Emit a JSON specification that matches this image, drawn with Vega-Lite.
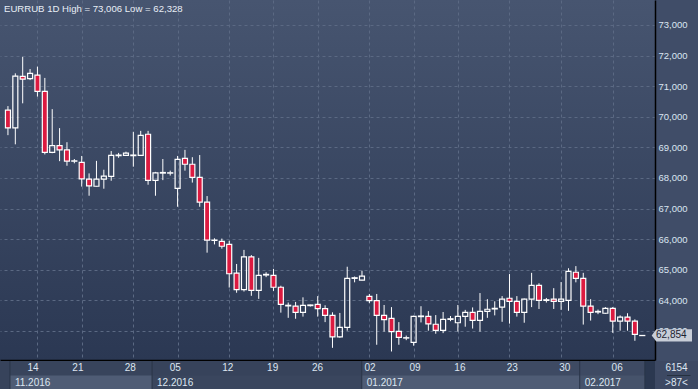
{
  "$schema": "https://vega.github.io/schema/vega-lite/v6.json",
  "padding": 0,
  "background": "#404d68",
  "spacing": 0,
  "config": {"font": "Liberation Sans", "view": {"stroke": null}, "axis": {"labelOverlap": false, "labelSeparation": 0}, "axisY": {"labelOverlap": false}},
  "datasets": {
    "candles": [
      {"i":0,"o":70.22,"h":70.35,"l":69.40,"c":69.64},
      {"i":1,"o":69.64,"h":71.42,"l":69.10,"c":71.33},
      {"i":2,"o":71.32,"h":71.96,"l":70.44,"c":71.23},
      {"i":3,"o":71.25,"h":71.56,"l":71.20,"c":71.42},
      {"i":4,"o":71.36,"h":71.64,"l":70.66,"c":70.83},
      {"i":5,"o":70.83,"h":71.27,"l":68.77,"c":68.84},
      {"i":6,"o":68.84,"h":70.25,"l":68.81,"c":69.06},
      {"i":7,"o":69.06,"h":69.63,"l":68.55,"c":68.92},
      {"i":8,"o":68.92,"h":69.17,"l":68.40,"c":68.55},
      {"i":9,"o":68.55,"h":68.62,"l":68.48,"c":68.56},
      {"i":10,"o":68.51,"h":68.72,"l":67.72,"c":67.97},
      {"i":11,"o":67.96,"h":68.15,"l":67.42,"c":67.74},
      {"i":12,"o":67.73,"h":68.56,"l":67.72,"c":67.96},
      {"i":13,"o":67.96,"h":68.27,"l":67.65,"c":68.06},
      {"i":14,"o":68.05,"h":68.88,"l":67.91,"c":68.74},
      {"i":15,"o":68.73,"h":68.82,"l":68.66,"c":68.75},
      {"i":16,"o":68.74,"h":68.86,"l":68.72,"c":68.81},
      {"i":17,"o":68.73,"h":69.51,"l":68.37,"c":68.75},
      {"i":18,"o":68.74,"h":69.54,"l":68.72,"c":69.39},
      {"i":19,"o":69.43,"h":69.54,"l":67.78,"c":67.92},
      {"i":20,"o":67.92,"h":68.20,"l":67.42,"c":68.17},
      {"i":21,"o":68.16,"h":68.62,"l":67.93,"c":68.18},
      {"i":22,"o":68.16,"h":68.24,"l":68.08,"c":68.17},
      {"i":23,"o":67.66,"h":68.72,"l":67.06,"c":68.61},
      {"i":24,"o":68.64,"h":68.92,"l":68.24,"c":68.45},
      {"i":25,"o":68.45,"h":68.68,"l":67.85,"c":68.02},
      {"i":26,"o":68.02,"h":68.75,"l":67.06,"c":67.21},
      {"i":27,"o":67.21,"h":67.41,"l":65.56,"c":65.97},
      {"i":28,"o":65.96,"h":66.03,"l":65.83,"c":65.97},
      {"i":29,"o":65.93,"h":66.02,"l":65.69,"c":65.77},
      {"i":30,"o":65.83,"h":65.95,"l":64.42,"c":64.87},
      {"i":31,"o":64.89,"h":65.19,"l":64.25,"c":64.35},
      {"i":32,"o":64.35,"h":65.65,"l":64.29,"c":65.42},
      {"i":33,"o":65.42,"h":65.48,"l":64.15,"c":64.33},
      {"i":34,"o":64.33,"h":65.39,"l":64.05,"c":64.82},
      {"i":35,"o":64.83,"h":64.92,"l":64.76,"c":64.85},
      {"i":36,"o":64.82,"h":65.03,"l":64.31,"c":64.43},
      {"i":37,"o":64.43,"h":64.48,"l":63.60,"c":63.87},
      {"i":38,"o":63.82,"h":63.93,"l":63.43,"c":63.84},
      {"i":39,"o":63.81,"h":63.95,"l":63.40,"c":63.61},
      {"i":40,"o":63.61,"h":64.10,"l":63.47,"c":63.84},
      {"i":41,"o":63.83,"h":63.86,"l":63.80,"c":63.85},
      {"i":42,"o":63.87,"h":64.14,"l":63.47,"c":63.73},
      {"i":43,"o":63.73,"h":63.84,"l":63.29,"c":63.51},
      {"i":44,"o":63.51,"h":63.61,"l":62.45,"c":62.81},
      {"i":45,"o":62.81,"h":63.59,"l":62.78,"c":63.12},
      {"i":46,"o":63.12,"h":65.10,"l":63.01,"c":64.72},
      {"i":47,"o":64.72,"h":64.78,"l":64.59,"c":64.74},
      {"i":48,"o":64.66,"h":64.97,"l":64.65,"c":64.79},
      {"i":49,"o":64.13,"h":64.21,"l":63.91,"c":63.99},
      {"i":50,"o":63.99,"h":64.21,"l":62.55,"c":63.51},
      {"i":51,"o":63.51,"h":63.85,"l":62.98,"c":63.37},
      {"i":52,"o":63.41,"h":63.78,"l":62.33,"c":62.98},
      {"i":53,"o":62.99,"h":63.29,"l":62.55,"c":62.79},
      {"i":54,"o":62.77,"h":62.85,"l":62.70,"c":62.78},
      {"i":55,"o":62.63,"h":63.50,"l":62.52,"c":63.48},
      {"i":56,"o":63.47,"h":63.81,"l":63.28,"c":63.49},
      {"i":57,"o":63.48,"h":63.65,"l":63.01,"c":63.23},
      {"i":58,"o":63.22,"h":63.52,"l":62.91,"c":63.02},
      {"i":59,"o":63.02,"h":63.62,"l":62.93,"c":63.38},
      {"i":60,"o":63.38,"h":63.49,"l":63.32,"c":63.40},
      {"i":61,"o":63.27,"h":63.85,"l":62.98,"c":63.48},
      {"i":62,"o":63.48,"h":63.69,"l":63.14,"c":63.61},
      {"i":63,"o":63.61,"h":63.77,"l":63.08,"c":63.35},
      {"i":64,"o":63.35,"h":64.24,"l":62.98,"c":63.64},
      {"i":65,"o":63.64,"h":64.04,"l":63.43,"c":63.71},
      {"i":66,"o":63.72,"h":63.97,"l":63.51,"c":63.74},
      {"i":67,"o":63.78,"h":64.14,"l":63.30,"c":64.04},
      {"i":68,"o":64.07,"h":64.86,"l":63.24,"c":63.97},
      {"i":69,"o":63.97,"h":64.14,"l":63.47,"c":63.61},
      {"i":70,"o":63.61,"h":64.06,"l":63.27,"c":64.04},
      {"i":71,"o":64.04,"h":64.90,"l":63.78,"c":64.49},
      {"i":72,"o":64.49,"h":64.56,"l":63.72,"c":64.00},
      {"i":73,"o":64.00,"h":64.08,"l":63.93,"c":64.02},
      {"i":74,"o":64.04,"h":64.40,"l":63.72,"c":63.97},
      {"i":75,"o":63.97,"h":64.60,"l":63.69,"c":64.04},
      {"i":76,"o":64.00,"h":65.05,"l":63.66,"c":64.95},
      {"i":77,"o":64.92,"h":65.12,"l":64.59,"c":64.72},
      {"i":78,"o":64.72,"h":64.90,"l":63.21,"c":63.81},
      {"i":79,"o":63.81,"h":64.04,"l":63.34,"c":63.61},
      {"i":80,"o":63.62,"h":63.70,"l":63.55,"c":63.64},
      {"i":81,"o":63.58,"h":63.78,"l":63.56,"c":63.74},
      {"i":82,"o":63.74,"h":63.78,"l":62.94,"c":63.32},
      {"i":83,"o":63.32,"h":63.51,"l":63.01,"c":63.45},
      {"i":84,"o":63.45,"h":63.58,"l":63.01,"c":63.32},
      {"i":85,"o":63.32,"h":63.38,"l":62.68,"c":62.89},
      {"i":86,"o":62.85,"h":62.86,"l":62.85,"c":62.854}
    ],
    "ticks": [
      {"i":4,"t":"14"},{"i":10,"t":"21"},{"i":17,"t":"28"},{"i":23,"t":"05"},
      {"i":30,"t":"12"},{"i":36,"t":"19"},{"i":42,"t":"26"},{"i":49,"t":"02"},
      {"i":55,"t":"09"},{"i":61,"t":"16"},{"i":68,"t":"23"},{"i":75,"t":"30"},{"i":82,"t":"06"}
    ],
    "months": [
      {"s":0.93,"e":19.9,"m":"11.2016"},
      {"s":19.9,"e":47.9,"m":"12.2016"},
      {"s":47.9,"e":77.0,"m":"01.2017"},
      {"s":77.0,"e":85.7,"m":"02.2017"},
      {"s":85.7,"e":87.05,"m":""}
    ]
  },
  "vconcat": [
    {
      "width": 655,
      "height": 360,
      "title": {"text": "EURRUB 1D High = 73,006 Low = 62,328", "anchor": "start", "offset": -14, "dx": 4, "fontSize": 9.6, "fontWeight": "normal", "color": "#e8eef6", "font": "Liberation Sans"},
      "view": {"stroke": null, "fill": {"gradient": "linear", "x1": 0, "y1": 0, "x2": 0, "y2": 1, "stops": [{"offset": 0, "color": "#475570"}, {"offset": 1, "color": "#2b3853"}]}},
      "data": {"name": "candles"},
      "encoding": {
        "x": {"field": "i", "type": "quantitative",
          "scale": {"domain": [-0.4, 87.05], "nice": false, "zero": false},
          "axis": {"values": [4,10,17,23,30,36,42,49,55,61,68,75,82], "labels": false, "ticks": false, "tickSize": 0, "domain": true, "domainColor": "#000000", "domainWidth": 1.5, "grid": true, "gridColor": "#5b6983", "gridDash": [3,3], "gridWidth": 1, "title": null, "minExtent": 0, "maxExtent": 0}},
        "y": {"field": "l", "type": "quantitative",
          "scale": {"domain": [62.052, 73.817], "nice": false, "zero": false},
          "axis": {"orient": "right", "values": [63,64,65,66,67,68,69,70,71,72,73], "labelExpr": "replace(format(datum.value, '.3f'), '.', ',')", "labelOverlap": false, "labelSeparation": 0, "labelColor": "#dbe5f1", "labelFontSize": 9.5, "labelFont": "Liberation Sans", "labelPadding": 3, "labelAlign": "left", "labelBaseline": "middle", "ticks": false, "tickSize": 0, "domain": true, "domainColor": "#000000", "domainWidth": 1.5, "grid": true, "gridColor": "#5b6983", "gridDash": [3,3], "gridWidth": 1, "title": null, "minExtent": 43, "maxExtent": 43}}
      },
      "layer": [
        {
          "transform": [{"filter": "datum.c < datum.o"}],
          "mark": {"type": "rule", "color": "#ffffff", "strokeWidth": 1, "clip": true},
          "encoding": {"y2": {"field": "h"}}
        },
        {
          "transform": [{"filter": "datum.c >= datum.o"}],
          "mark": {"type": "rule", "color": "#ffffff", "strokeWidth": 1, "clip": true},
          "encoding": {"y": {"field": "c", "type": "quantitative"}, "y2": {"field": "h"}}
        },
        {
          "transform": [{"filter": "datum.c >= datum.o"}],
          "mark": {"type": "rule", "color": "#ffffff", "strokeWidth": 1, "clip": true},
          "encoding": {"y2": {"field": "o"}}
        },
        {
          "mark": {"type": "bar", "size": 5, "stroke": "#ffffff", "strokeWidth": 1.2, "clip": true, "cornerRadius": 0},
          "encoding": {
            "y": {"field": "o", "type": "quantitative"},
            "y2": {"field": "c"},
            "fill": {"condition": {"test": "datum.c < datum.o", "value": "#dc1a40"}, "value": "transparent"}
          }
        },
        {
          "transform": [{"filter": "datum.i == 86"}],
          "mark": {"type": "point", "shape": "M0.08,0L0.3,-0.29L2,-0.29L2,0.29L0.3,0.29Z", "size": 1764, "filled": true, "fill": "#c8ced8", "opacity": 1, "strokeWidth": 0},
          "encoding": {"x": {"datum": 87.05}, "y": {"field": "c", "type": "quantitative"}}
        },
        {
          "transform": [{"filter": "datum.i == 86"}, {"calculate": "replace(format(datum.c, '.3f'), '.', ',')", "as": "lab"}],
          "mark": {"type": "text", "align": "left", "baseline": "middle", "dx": 6, "fontSize": 10, "font": "Liberation Sans", "color": "#1c2331"},
          "encoding": {"x": {"datum": 87.05}, "y": {"field": "c", "type": "quantitative"}, "text": {"field": "lab"}}
        }
      ]
    },
    {
      "spacing": 0,
      "hconcat": [
        {
          "width": 655,
          "height": 29,
          "view": {"fill": "#37435b", "stroke": null},
          "layer": [
            {
              "data": {"name": "months"},
              "mark": {"type": "rect"},
              "encoding": {
                "x": {"field": "s", "type": "quantitative", "scale": {"domain": [-0.4, 87.05], "nice": false, "zero": false}, "axis": null},
                "x2": {"field": "e"},
                "fill": {"field": "m", "type": "nominal", "scale": {"domain": ["11.2016","12.2016","01.2017","02.2017",""], "range": ["#38445c","#37435b","#3e4a63","#3e4a63","#2b3850"]}, "legend": null}
              }
            },
            {
              "data": {"name": "months"},
              "transform": [{"filter": "datum.m != ''"}],
              "mark": {"type": "rect"},
              "encoding": {
                "x": {"field": "s", "type": "quantitative"},
                "x2": {"field": "e"},
                "y": {"datum": "m", "type": "ordinal", "scale": {"domain": ["d","m"], "paddingInner": 0, "paddingOuter": 0}, "axis": null},
                "color": {"field": "m", "type": "nominal", "scale": {"domain": ["11.2016","12.2016","01.2017","02.2017"], "range": ["#4f5c75","#3a465e","#4f5c75","#46536b"]}, "legend": null}
              }
            },
            {
              "data": {"name": "months"},
              "mark": {"type": "rule", "color": "#2a3548", "strokeWidth": 1},
              "encoding": {"x": {"field": "s", "type": "quantitative"}}
            },
            {
              "data": {"name": "ticks"},
              "mark": {"type": "text", "align": "center", "baseline": "middle", "fontSize": 10, "font": "Liberation Sans", "color": "#dde6f1"},
              "encoding": {"x": {"field": "i", "type": "quantitative"}, "y": {"datum": "d", "type": "ordinal"}, "text": {"field": "t"}}
            },
            {
              "data": {"name": "months"},
              "mark": {"type": "text", "align": "left", "baseline": "middle", "dx": 5, "fontSize": 10, "font": "Liberation Sans", "color": "#dde6f1"},
              "encoding": {"x": {"field": "s", "type": "quantitative"}, "y": {"datum": "m", "type": "ordinal"}, "text": {"field": "m"}}
            }
          ]
        },
        {
          "width": 43,
          "height": 29,
          "view": {"fill": "#3d4963", "stroke": null},
          "data": {"values": [{"row": "a", "t": "6154"}, {"row": "b", "t": ">87<"}]},
          "layer": [
            {
              "mark": {"type": "text", "align": "center", "baseline": "middle", "fontSize": 10, "font": "Liberation Sans", "color": "#dde6f1"},
              "encoding": {
                "y": {"field": "row", "type": "ordinal", "scale": {"domain": ["a","b"], "paddingInner": 0, "paddingOuter": 0}, "axis": null},
                "text": {"field": "t"}
              }
            },
            {
              "mark": {"type": "rule", "color": "#26313f", "strokeWidth": 1},
              "encoding": {
                "y": {"datum": "b", "type": "ordinal", "bandPosition": 0},
                "x": {"datum": 0.28, "type": "quantitative", "scale": {"domain": [0, 1], "nice": false}, "axis": null},
                "x2": {"datum": 0.82}
              }
            }
          ]
        }
      ]
    }
  ]
}
